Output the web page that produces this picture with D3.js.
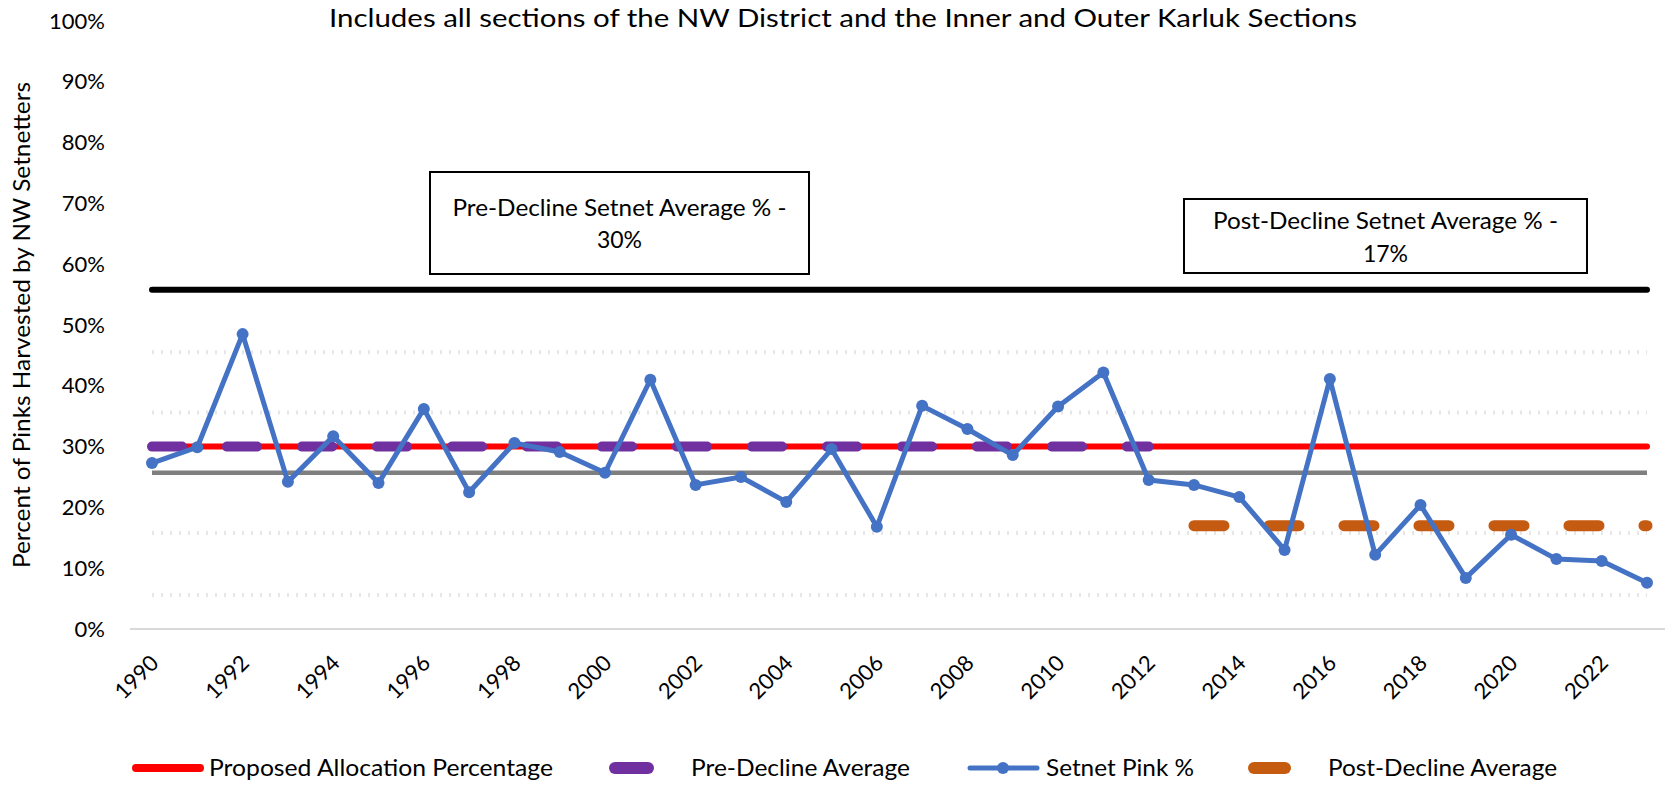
<!DOCTYPE html>
<html><head><meta charset="utf-8">
<script src="https://cdn.jsdelivr.net/npm/d3@7"></script>
<style>
body{margin:0;background:#fff}
svg{display:block}
text{font-family:Lato,'Open Sans',sans-serif;fill:#000}
</style>
</head><body>
<svg id="chart" width="1665" height="787"></svg>
<script>
// ---------------- data ----------------
const years = ["1990","1991","1992","1993","1994","1995","1996","1997","1998","1999",
  "2000","2001","2002","2003","2004","2005","2006","2007","2008","2009",
  "2010","2011","2012","2013","2014","2015","2016","2017","2018","2019",
  "2020","2021","2022","2023"];
const xTickLabels = ["1990","1992","1994","1996","1998","2000","2002","2004","2006","2008",
  "2010","2012","2014","2016","2018","2020","2022"];
const setnetPink = [27.3,29.9,48.5,24.2,31.7,24.0,36.2,22.5,30.6,29.1,
  25.7,41.0,23.7,25.0,20.9,29.6,16.8,36.7,32.9,28.6,
  36.6,42.2,24.5,23.7,21.7,13.0,41.1,12.2,20.4,8.4,
  15.5,11.5,11.2,7.6];
const proposedAllocation = 30;          // red line, all years
const preDeclineAverage = 30;           // purple dashed
const preDeclineYears = ["1990","2012"];
const postDeclineAverage = 17;          // orange dashed
const postDeclineYears = ["2013","2023"];
const upperReference = 55.8;            // black line
const grayReference = 25.7;             // gray line
const faintGuides = [45.5, 35.6, 15.8, 5.6];
const yTicks = [0,10,20,30,40,50,60,70,80,90,100];
const title = "Includes all sections of the NW District and the Inner and Outer Karluk Sections";
const yTitle = "Percent of Pinks Harvested by NW Setnetters";
const boxes = [
  {lines:["Pre-Decline Setnet Average % -","30%"]},
  {lines:["Post-Decline Setnet Average % -","17%"]}
];
const legendItems = ["Proposed Allocation Percentage","Pre-Decline Average","Setnet Pink %","Post-Decline Average"];

// ---------------- layout ----------------
const svg = d3.select("#chart");
const x = d3.scalePoint().domain(years).range([152, 1647]);
const y = d3.scaleLinear().domain([0, 100]).range([629, 21]);
const FONT = "Lato, 'Open Sans', sans-serif";

// faint dotted guide lines
svg.append("g").selectAll("line").data(faintGuides).join("line")
  .attr("x1", x(years[0])).attr("x2", x(years[years.length - 1]))
  .attr("y1", d => y(d)).attr("y2", d => y(d))
  .attr("stroke", "#e6e6e6").attr("stroke-width", 4).attr("stroke-dasharray", "2,7");

// y axis
const gy = svg.append("g").attr("transform", "translate(105,0)")
  .call(d3.axisLeft(y).tickValues(yTicks).tickFormat(d => d + "%").tickSize(0).tickPadding(0));
gy.select(".domain").remove();
gy.attr("font-family", FONT).attr("font-size", 22);
gy.selectAll("text").attr("fill", "#000");

// x axis baseline
svg.append("line").attr("x1", 130).attr("x2", 1665).attr("y1", y(0)).attr("y2", y(0))
  .attr("stroke", "#d9d9d9").attr("stroke-width", 2);
const gx = svg.append("g").attr("transform", `translate(0,${y(0)})`)
  .call(d3.axisBottom(x).tickValues(xTickLabels).tickSize(0).tickPadding(0));
gx.select(".domain").remove();
gx.attr("font-family", FONT).attr("font-size", 22);
gx.selectAll("text").attr("fill", "#000").attr("y", 0).attr("dy", "0.35em")
  .attr("text-anchor", "end").attr("transform", "translate(2,30) rotate(-45)");

const line = d3.line().x(d => x(d.yr)).y(d => y(d.v));
const constSeries = (v, from, to) => years.slice(years.indexOf(from), years.indexOf(to) + 1).map(yr => ({yr, v}));

// black line
svg.append("path").datum(constSeries(upperReference, years[0], years[years.length - 1]))
  .attr("d", line).attr("fill", "none").attr("stroke", "#000").attr("stroke-width", 6).attr("stroke-linecap", "round");
// gray line
svg.append("path").datum(constSeries(grayReference, years[0], years[years.length - 1]))
  .attr("d", line).attr("fill", "none").attr("stroke", "#7f7f7f").attr("stroke-width", 4.5);
// red proposed allocation
svg.append("path").datum(constSeries(proposedAllocation, years[0], years[years.length - 1]))
  .attr("d", line).attr("fill", "none").attr("stroke", "#ff0000").attr("stroke-width", 6).attr("stroke-linecap", "round");
// purple pre-decline
svg.append("path").datum(constSeries(preDeclineAverage, preDeclineYears[0], preDeclineYears[1]))
  .attr("d", line).attr("fill", "none").attr("stroke", "#7030a0").attr("stroke-width", 10)
  .attr("stroke-linecap", "round").attr("stroke-dasharray", "30,45");
// orange post-decline
svg.append("path").datum(constSeries(postDeclineAverage, postDeclineYears[0], postDeclineYears[1]))
  .attr("d", line).attr("fill", "none").attr("stroke", "#c55a11").attr("stroke-width", 11)
  .attr("stroke-linecap", "round").attr("stroke-dasharray", "30,45");

// setnet pink series
const pinkData = years.map((yr, i) => ({yr, v: setnetPink[i]}));
svg.append("path").datum(pinkData).attr("d", line).attr("fill", "none")
  .attr("stroke", "#4472c4").attr("stroke-width", 5).attr("stroke-linejoin", "round");
svg.append("g").selectAll("circle").data(pinkData).join("circle")
  .attr("cx", d => x(d.yr)).attr("cy", d => y(d.v)).attr("r", 6).attr("fill", "#4472c4");

// title
svg.append("text").attr("x", 329).attr("y", 27).attr("font-size", 25)
  .attr("textLength", 1028).attr("lengthAdjust", "spacingAndGlyphs").text(title);

// y title
svg.append("text").attr("transform", "translate(22,325) rotate(-90)")
  .attr("text-anchor", "middle").attr("dy", "0.35em").attr("font-size", 23)
  .attr("textLength", 486).attr("lengthAdjust", "spacingAndGlyphs").text(yTitle);

// text boxes
const boxGeom = [
  {x: 430, y: 172, w: 379, h: 102, l1: 208, l2: 240, tl: 334},
  {x: 1184, y: 199, w: 403, h: 74, l1: 221, l2: 254, tl: 345}
];
boxes.forEach((b, i) => {
  const g = boxGeom[i];
  svg.append("rect").attr("x", g.x).attr("y", g.y).attr("width", g.w).attr("height", g.h)
    .attr("fill", "#fff").attr("stroke", "#000").attr("stroke-width", 2);
  svg.append("text").attr("x", g.x + g.w / 2).attr("y", g.l1).attr("dy", "0.35em")
    .attr("text-anchor", "middle").attr("font-size", 23)
    .attr("textLength", g.tl).attr("lengthAdjust", "spacingAndGlyphs").text(b.lines[0]);
  svg.append("text").attr("x", g.x + g.w / 2).attr("y", g.l2).attr("dy", "0.35em")
    .attr("text-anchor", "middle").attr("font-size", 23).text(b.lines[1]);
});

// legend
const ly = 768;
const lg = svg.append("g");
lg.append("line").attr("x1", 136).attr("x2", 200).attr("y1", ly).attr("y2", ly)
  .attr("stroke", "#ff0000").attr("stroke-width", 8).attr("stroke-linecap", "round");
lg.append("line").attr("x1", 615).attr("x2", 648).attr("y1", ly).attr("y2", ly)
  .attr("stroke", "#7030a0").attr("stroke-width", 12).attr("stroke-linecap", "round");
lg.append("line").attr("x1", 970).attr("x2", 1037).attr("y1", ly).attr("y2", ly)
  .attr("stroke", "#4472c4").attr("stroke-width", 5).attr("stroke-linecap", "round");
lg.append("circle").attr("cx", 1003).attr("cy", ly).attr("r", 6).attr("fill", "#4472c4");
lg.append("line").attr("x1", 1254).attr("x2", 1285).attr("y1", ly).attr("y2", ly)
  .attr("stroke", "#c55a11").attr("stroke-width", 12).attr("stroke-linecap", "round");
const legendText = [
  {x: 209, w: 344}, {x: 691, w: 219}, {x: 1046, w: 148}, {x: 1328, w: 229}
];
legendItems.forEach((t, i) => {
  lg.append("text").attr("x", legendText[i].x).attr("y", ly).attr("dy", "0.35em")
    .attr("font-size", 23).attr("textLength", legendText[i].w)
    .attr("lengthAdjust", "spacingAndGlyphs").text(t);
});
</script>
</body></html>
